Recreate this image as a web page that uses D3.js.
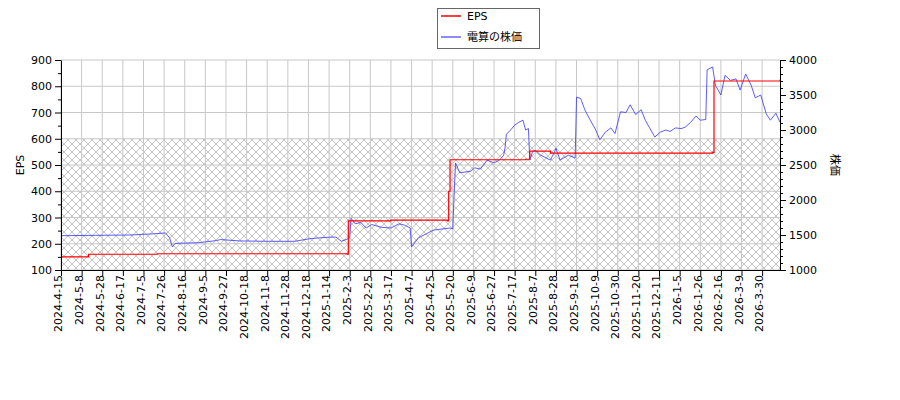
<!DOCTYPE html>
<html><head><meta charset="utf-8">
<script src="https://cdn.jsdelivr.net/npm/d3@7"></script>
<style>body{margin:0;background:#fff}text{font-family:"DejaVu Sans",sans-serif;font-size:11px}</style>
</head><body><svg id="c" width="900" height="400"></svg>
<script>
var tickLabels = ["2024-4-15","2024-5-8","2024-5-28","2024-6-17","2024-7-5","2024-7-26","2024-8-16","2024-9-5","2024-9-27","2024-10-18","2024-11-8","2024-11-28","2024-12-18","2025-1-14","2025-2-3","2025-2-25","2025-3-17","2025-4-7","2025-4-25","2025-5-20","2025-6-9","2025-6-27","2025-7-17","2025-8-7","2025-8-28","2025-9-18","2025-10-9","2025-10-30","2025-11-20","2025-12-11","2026-1-5","2026-1-26","2026-2-16","2026-3-9","2026-3-30"];
var lastIndex = 523;
// EPS step changes: [trading day index, value]
var epsSteps = [[0,150],[20,160],[70,162],[208,160],[209,287],[240,290],[281,287],[282,400],[283,520],[338,522],[341,553],[356,545],[474,548],[475,820],[523,825]];
// stock price: [trading day index, price]
var price = [[0,1490],[25,1495],[50,1500],[70,1520],[76,1530],[79,1460],[81,1330],[83,1380],[100,1390],[113,1420],[116,1435],[130,1415],[150,1410],[170,1410],[182,1450],[196,1470],[200,1470],[204,1410],[208,1440],[210,1460],[211,1740],[214,1660],[218,1680],[222,1600],[226,1650],[233,1610],[240,1600],[246,1660],[250,1640],[254,1600],[255,1330],[260,1460],[271,1570],[283,1600],[285,1590],[286,2100],[287,2530],[290,2390],[298,2410],[301,2460],[305,2440],[310,2570],[315,2530],[319,2570],[322,2640],[323,2750],[324,2940],[327,3000],[330,3070],[333,3110],[336,3140],[338,3000],[340,3020],[341,2570],[343,2690],[345,2710],[349,2640],[356,2570],[359,2690],[360,2740],[363,2570],[369,2640],[374,2600],[375,3470],[378,3450],[381,3290],[385,3140],[389,3000],[392,2860],[396,2970],[400,3030],[403,2950],[407,3260],[411,3250],[414,3360],[418,3220],[422,3290],[425,3140],[429,3000],[432,2900],[436,2970],[440,3000],[443,2980],[447,3030],[451,3020],[454,3040],[458,3110],[462,3200],[465,3140],[469,3150],[470,3860],[474,3900],[476,3640],[480,3500],[483,3780],[487,3710],[491,3730],[494,3570],[498,3800],[502,3640],[505,3460],[509,3500],[513,3230],[516,3140],[520,3240],[523,3110]];
var epsTicks = [100,200,300,400,500,600,700,800,900];
var priceTicks = [1000,1500,2000,2500,3000,3500,4000];

var svg = d3.select("#c");
var L = 61, R = 780, T = 60, B = 270;
var x = d3.scaleLinear().domain([0, lastIndex]).range([L, R]);
var yE = d3.scaleLinear().domain([100, 900]).range([B, T]);
var yP = d3.scaleLinear().domain([1000, 4000]).range([B, T]);

var defs = svg.append("defs");
var pat = defs.append("pattern").attr("id","hatch").attr("patternUnits","userSpaceOnUse")
	.attr("width",8).attr("height",8);
pat.append("path").attr("d","M0,0L8,8M8,0L0,8").attr("stroke","#aaa").attr("stroke-width",0.7);

svg.append("rect").attr("x",L).attr("y",yE(600)).attr("width",R-L).attr("height",B-yE(600)).attr("fill","url(#hatch)");

// grid
var xt = d3.range(0, tickLabels.length).map(function(i){return i*15;});
svg.selectAll(".gx").data(xt).enter().append("line")
	.attr("x1",function(d){return x(d)}).attr("x2",function(d){return x(d)})
	.attr("y1",T).attr("y2",B).attr("stroke","#c8c8c8");
svg.selectAll(".gy").data(epsTicks).enter().append("line")
	.attr("x1",L).attr("x2",R).attr("y1",function(d){return yE(d)}).attr("y2",function(d){return yE(d)})
	.attr("stroke","#c8c8c8");

// lines
var pline = d3.line().x(function(d){return x(d[0])}).y(function(d){return yP(d[1])});
svg.append("path").datum(price).attr("d",pline).attr("fill","none").attr("stroke","#3333ff").attr("stroke-width",0.8);
var eline = d3.line().curve(d3.curveStepAfter).x(function(d){return x(d[0])}).y(function(d){return yE(d[1])});
svg.append("path").datum(epsSteps).attr("d",eline).attr("fill","none").attr("stroke","red").attr("stroke-width",1.2);

// axes
var ax = svg.append("g").attr("transform","translate(0,"+B+")")
	.call(d3.axisBottom(x).tickValues(xt).tickFormat(function(d){return tickLabels[d/15]}).tickSizeOuter(0));
ax.selectAll("text").attr("transform","rotate(-90)").attr("text-anchor","end").attr("x",-5).attr("y",-3).attr("dy","0.35em");
var minor = d3.range(150, 900, 100);
svg.append("g").attr("transform","translate("+L+",0)")
	.call(d3.axisLeft(yE).tickValues(minor).tickSize(3).tickFormat("")).select(".domain").remove();
svg.append("g").attr("transform","translate("+L+",0)").call(d3.axisLeft(yE).tickValues(epsTicks).tickSizeOuter(0));
svg.append("g").attr("transform","translate("+R+",0)")
	.call(d3.axisRight(yP).tickValues(d3.range(1100,4000,100)).tickSize(3).tickFormat("")).select(".domain").remove();
svg.append("g").attr("transform","translate("+R+",0)").call(d3.axisRight(yP).tickValues(priceTicks).tickFormat(d3.format("d")).tickSizeOuter(0));
svg.selectAll(".tick text").style("font-size","11px").attr("fill","#000");

svg.append("text").attr("transform","translate(24,165) rotate(-90)").attr("text-anchor","middle").text("EPS");
svg.append("text").attr("transform","translate(831,165) rotate(90)").attr("text-anchor","middle")
	.style("font-family","'Noto Sans CJK JP'").text("株価");

// legend
var lg = svg.append("g");
lg.append("rect").attr("x",437.5).attr("y",8.5).attr("width",102).attr("height",40).attr("fill","#fff").attr("stroke","#666");
lg.append("line").attr("x1",441).attr("x2",461).attr("y1",16).attr("y2",16).attr("stroke","red").attr("stroke-width",1.5);
lg.append("line").attr("x1",441).attr("x2",461).attr("y1",37).attr("y2",37).attr("stroke","#6666ff").attr("stroke-width",1.5);
lg.append("text").attr("x",467).attr("y",20).text("EPS");
lg.append("text").attr("x",467).attr("y",41).style("font-family","'Noto Sans CJK JP'").text("電算の株価");
</script></body></html>
